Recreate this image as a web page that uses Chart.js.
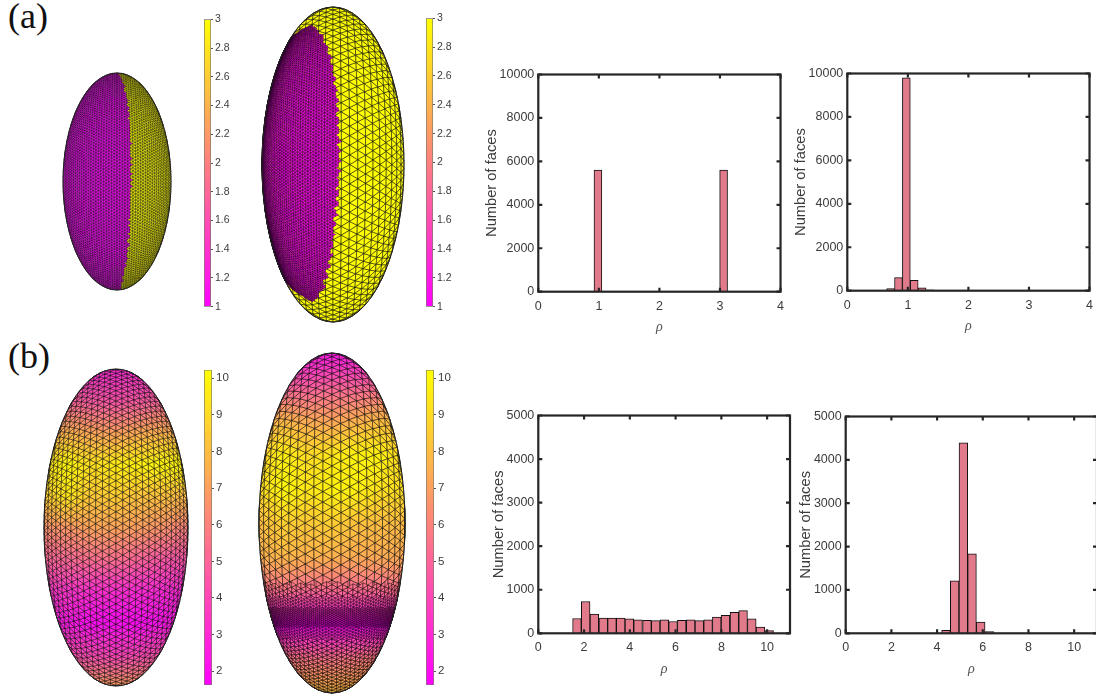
<!DOCTYPE html>
<html>
<head>
<meta charset="utf-8">
<title>Face ratio histograms</title>
<script src="https://cdn.jsdelivr.net/npm/chart.js@4"></script>
<style>
  html, body { margin: 0; padding: 0; background: #fff; width: 1096px; height: 694px; overflow: hidden; }
  canvas { position: absolute; display: block; }
  .tag { position: absolute; left: 8px; font: 36px/36px "Liberation Serif", serif; color: #111; }
</style>
</head>
<body>
<div class="tag" style="top:-2px">(a)</div>
<div class="tag" style="top:338px">(b)</div>
<script>
// histogram bins
var rhoA1 = [0.985, 1.115, 3.06];
var facesA1 = [5600, 0, 5600];
var rhoA2 = [0.715, 0.845, 0.975, 1.105, 1.235, 1.365];
var facesA2 = [100, 600, 9800, 480, 130, 40];
var rhoB1 = [1.69, 2.07, 2.45, 2.84, 3.22, 3.6, 3.98, 4.36, 4.75, 5.13, 5.51, 5.89, 6.27, 6.66, 7.04, 7.42, 7.8, 8.18, 8.57, 8.95, 9.33, 9.71, 10.09];
var facesB1 = [340, 730, 440, 350, 350, 350, 330, 310, 300, 290, 310, 270, 300, 310, 290, 310, 370, 410, 480, 520, 330, 140, 60];
var rhoB2 = [4.39, 4.77, 5.15, 5.53, 5.91, 6.29];
var facesB2 = [70, 1210, 4390, 1830, 260, 40];

// tick labels
var rhoTicksA = [0, 1, 2, 3, 4];
var rhoTicksB = [0, 2, 4, 6, 8, 10];
var faceTicksA = [0, 2000, 4000, 6000, 8000, 10000];
var faceTicksB = [0, 1000, 2000, 3000, 4000, 5000];
var barTicksA = [1, 1.2, 1.4, 1.6, 1.8, 2, 2.2, 2.4, 2.6, 2.8, 3];
var barTicksB = [2, 3, 4, 5, 6, 7, 8, 9, 10];
var barRangeA = [1, 3];
var barRangeB = [1.62, 10.23];

// surface (a): rho is 1 left of the switch line and 3 right of it
var switchRowsLeft = [1, 0.88, 0.695, 0.45, 0.2, -0.04, -0.29, -0.535, -0.69, -0.87, -1];
var switchEdgeLeft = [0.05, 0.136, 0.216, 0.247, 0.26, 0.26, 0.247, 0.216, 0.2, 0.12, 0.07];
var patchRowsRight = [0.883, 0.852, 0.767, 0.661, 0.49, 0.3, 0.025, -0.23, -0.4, -0.59, -0.8, -0.875];
var patchEdgeRight = [-0.32, -0.2, -0.104, -0.033, 0.038, 0.07, 0.085, 0.06, 0.014, -0.033, -0.15, -0.29];
var patchStartRight = [-0.32, -0.46, -0.7, -1, -1, -1, -1, -1, -1, -1, -0.55, -0.29];

// surface (b): rho sampled on a coarse grid, top row first, left column first
var fieldLeft = [
  [3, 3, 3, 3, 3, 3, 3],
  [5, 5, 4.6, 4.4, 4.6, 5, 5],
  [7.4, 7.6, 7.2, 7, 7.4, 7.6, 7.4],
  [9.4, 10, 9.2, 9.6, 9.8, 10, 10],
  [8.6, 9.4, 8.4, 8.6, 8.2, 8.2, 8],
  [6.6, 6.8, 7.2, 7.2, 7, 6.6, 6],
  [5, 5.2, 5.4, 5.4, 5, 4.6, 4.4],
  [3.4, 3.4, 3.2, 3.2, 3, 3, 3],
  [2.6, 2.4, 2, 2, 2, 2.2, 2.6],
  [4.6, 4.2, 4, 3.8, 4, 4.4, 5],
  [7, 7, 7, 7, 7, 7, 7]
];
var fieldRight = [
  [2.4, 2.4, 2.4, 2.4, 2.4, 2.4, 2.4],
  [5, 5, 4.8, 5, 5, 5.2, 5],
  [7.6, 7.8, 7.4, 7.2, 7.6, 8, 8],
  [8.6, 9.8, 9, 9.4, 9.8, 9.8, 8.8],
  [9, 10, 9.4, 9.8, 9.8, 9.2, 9.2],
  [8, 8.6, 8.4, 8.6, 8.2, 8, 8],
  [7.6, 7.8, 7.6, 7.6, 7.4, 7.4, 7.4],
  [5.4, 5.4, 5.2, 5.2, 5.2, 5.2, 5.4],
  [2, 2, 2, 2, 2, 2, 2],
  [6, 5.8, 5.6, 5.6, 5.8, 6, 6],
  [8, 8, 8, 8, 8, 8, 8]
];

var INK = '#262626';
var TEXT = '#3c3c3c';
var BAR = '#e17b8b';

// spring colormap
function spring(rho, range) {
  var t = Math.max(0, Math.min(1, (rho - range[0]) / (range[1] - range[0])));
  return 'rgb(255,' + Math.round(255 * t) + ',' + Math.round(255 * (1 - t)) + ')';
}

function place(x, y, w, h) {
  var c = document.createElement('canvas');
  c.width = w; c.height = h;
  c.style.left = x + 'px'; c.style.top = y + 'px';
  document.body.appendChild(c);
  return c;
}

function fixedTicks(list) {
  return function (scale) {
    scale.ticks = list.map(function (v) { return { value: v }; });
  };
}

// box and inward ticks on all four sides
var boxPlugin = {
  id: 'box',
  afterDraw: function (chart) {
    var a = chart.chartArea, c = chart.ctx, len = 4;
    c.save();
    c.strokeStyle = INK;
    c.lineWidth = 2.2;
    c.strokeRect(a.left, a.top, a.right - a.left, a.bottom - a.top);
    c.beginPath();
    chart.scales.x.ticks.forEach(function (t) {
      var p = chart.scales.x.getPixelForValue(t.value);
      c.moveTo(p, a.bottom); c.lineTo(p, a.bottom - len);
      c.moveTo(p, a.top); c.lineTo(p, a.top + len);
    });
    chart.scales.y.ticks.forEach(function (t) {
      var p = chart.scales.y.getPixelForValue(t.value);
      c.moveTo(a.left, p); c.lineTo(a.left + len, p);
      c.moveTo(a.right, p); c.lineTo(a.right - len, p);
    });
    c.stroke();
    c.restore();
  }
};

function histogram(box, bins, counts, xMax, xTicks, yMax, yTicks) {
  var left = box.titleX - 8, top = box.t - 10, bottom = box.rhoY + 8, right = box.r + 8;
  var canvas = place(left, top, right - left, bottom - top);
  return new Chart(canvas, {
    type: 'bar',
    data: {
      datasets: [{
        data: bins.map(function (b, i) { return { x: b, y: counts[i] }; }),
        backgroundColor: BAR,
        borderColor: '#111',
        borderWidth: 1,
        barPercentage: 1,
        categoryPercentage: 1
      }]
    },
    plugins: [boxPlugin],
    options: {
      responsive: false,
      animation: false,
      events: [],
      layout: { padding: { top: box.t - top, right: right - box.r, left: 0, bottom: 0 } },
      plugins: { legend: { display: false }, tooltip: { enabled: false } },
      scales: {
        x: {
          type: 'linear', min: 0, max: xMax, offset: false,
          grid: { display: false, drawTicks: false }, border: { display: false },
          afterBuildTicks: fixedTicks(xTicks),
          afterFit: function (s) { s.height = bottom - box.b; },
          ticks: { autoSkip: false, maxRotation: 0, padding: 7, color: TEXT, font: { family: 'Liberation Sans', size: 12.5 }, callback: String },
          title: { display: true, text: 'ρ', color: '#555', padding: 0, font: { family: 'Liberation Serif', style: 'italic', size: 14 } }
        },
        y: {
          min: 0, max: yMax,
          grid: { display: false, drawTicks: false }, border: { display: false },
          afterBuildTicks: fixedTicks(yTicks),
          afterFit: function (s) { s.width = box.l - left; },
          ticks: { autoSkip: false, padding: 4, color: TEXT, font: { family: 'Liberation Sans', size: 12.5 }, callback: String },
          title: { display: true, text: 'Number of faces', color: TEXT, padding: 0, font: { family: 'Liberation Sans', size: 14.7 } }
        }
      }
    }
  });
}

function colorbar(l, r, t, b, range, ticks, size) {
  var pad = 8, width = 34;
  var canvas = place(l - 2, t - pad, r - l + width, b - t + 2 * pad);
  return new Chart(canvas, {
    type: 'bar',
    data: {
      labels: [''],
      datasets: [{
        data: [[range[0], range[1]]],
        barPercentage: 1,
        categoryPercentage: 1,
        borderSkipped: false,
        borderWidth: 1,
        borderColor: '#7d7d6a',
        backgroundColor: function (ctx) {
          var a = ctx.chart.chartArea;
          if (!a) return '#ff8080';
          var g = ctx.chart.ctx.createLinearGradient(0, a.bottom, 0, a.top);
          g.addColorStop(0, spring(range[0], range));
          g.addColorStop(1, spring(range[1], range));
          return g;
        }
      }]
    },
    options: {
      responsive: false,
      animation: false,
      events: [],
      layout: { padding: { top: pad, bottom: pad, left: 2, right: 0 } },
      plugins: { legend: { display: false }, tooltip: { enabled: false } },
      scales: {
        x: { display: false },
        y: {
          position: 'right', min: range[0], max: range[1],
          border: { display: false },
          grid: { drawOnChartArea: false, tickLength: 2, tickColor: '#555', tickWidth: 1 },
          afterBuildTicks: fixedTicks(ticks),
          afterFit: function (s) { s.width = width - 2; },
          ticks: { autoSkip: false, padding: 2, color: TEXT, font: { family: 'Liberation Sans', size: size }, callback: String }
        }
      }
    }
  });
}

// triangular lattice with vertical edges, squeezed toward the rim like a surface seen head on
// rim is how much of the squeeze to use, 1 is full foreshortening
function lattice(h, a, b, rim) {
  var nodes = [], inside = [], faces = [];
  var dx = h * 0.866;
  var nc = Math.ceil(a * 1.05 / dx), nr = Math.ceil(b * 1.05 / h);
  var rows = 2 * nr + 1, cols = 2 * nc + 1;
  for (var i = 0; i < cols; i++) {
    for (var j = 0; j < rows; j++) {
      var u = (i - nc) * dx / a;
      var v = ((j - nr) + (i % 2 ? 0.5 : 0)) * h / b;
      var r = Math.sqrt(u * u + v * v);
      var s;
      if (r === 0) s = rim * Math.PI / 2 + (1 - rim);
      else if (r < 1) s = (rim * Math.sin(r * Math.PI / 2) + (1 - rim) * r) / r;
      else s = 1 / r;
      nodes.push({ x: u * s, y: v * s });
      inside.push(r < 1);
    }
  }
  function id(c, w) { return c * rows + w; }
  function add(p, q, w) {
    if (inside[p] || inside[q] || inside[w]) faces.push([p, q, w]);
  }
  for (i = 0; i < cols - 1; i++) {
    for (j = 0; j < rows - 1; j++) {
      if (i % 2 === 0) {
        add(id(i, j), id(i, j + 1), id(i + 1, j));
        add(id(i, j + 1), id(i + 1, j), id(i + 1, j + 1));
      } else {
        add(id(i, j), id(i, j + 1), id(i + 1, j + 1));
        add(id(i, j), id(i + 1, j), id(i + 1, j + 1));
      }
    }
  }
  return { nodes: nodes, faces: faces };
}

function centroid(m, f) {
  return {
    x: (m.nodes[f[0]].x + m.nodes[f[1]].x + m.nodes[f[2]].x) / 3,
    y: (m.nodes[f[0]].y + m.nodes[f[1]].y + m.nodes[f[2]].y) / 3
  };
}

// value of a polyline listed by descending rows
function along(rows, vals, y) {
  for (var i = 0; i < rows.length - 1; i++) {
    if (y <= rows[i] && y >= rows[i + 1]) {
      return vals[i] + (vals[i + 1] - vals[i]) * (rows[i] - y) / (rows[i] - rows[i + 1]);
    }
  }
  return null;
}

function sampleField(field, p) {
  var ry = (1 - p.y) / 2 * (field.length - 1), rx = (p.x + 1) / 2 * (field[0].length - 1);
  var y0 = Math.min(field.length - 2, Math.floor(ry)), x0 = Math.min(field[0].length - 2, Math.floor(rx));
  var fy = ry - y0, fx = rx - x0;
  return (field[y0][x0] * (1 - fx) + field[y0][x0 + 1] * fx) * (1 - fy) +
         (field[y0 + 1][x0] * (1 - fx) + field[y0 + 1][x0 + 1] * fx) * fy;
}

// fills and strokes the faces of each dataset from the points the scales placed
var meshPlugin = {
  id: 'mesh',
  beforeDatasetsDraw: function (chart) {
    var c = chart.ctx;
    c.save();
    c.lineJoin = 'round';
    chart.data.datasets.forEach(function (ds, n) {
      var pts = chart.getDatasetMeta(n).data;
      c.lineWidth = ds.meshWidth;
      c.strokeStyle = ds.meshColor;
      ds.faces.forEach(function (f, k) {
        if (!ds.faceColors[k]) return;
        c.beginPath();
        c.moveTo(pts[f[0]].x, pts[f[0]].y);
        c.lineTo(pts[f[1]].x, pts[f[1]].y);
        c.lineTo(pts[f[2]].x, pts[f[2]].y);
        c.closePath();
        c.fillStyle = ds.faceColors[k];
        c.fill();
        c.stroke();
      });
    });
    var sx = chart.scales.x, sy = chart.scales.y;
    var mx = sx.getPixelForValue(0), my = sy.getPixelForValue(0);
    c.beginPath();
    c.ellipse(mx, my, sx.getPixelForValue(1) - mx, my - sy.getPixelForValue(1), 0, 0, Math.PI * 2);
    c.strokeStyle = '#222';
    c.lineWidth = 1;
    c.stroke();
    c.restore();
  }
};

function surface(s, layers) {
  var canvas = place(s.cx - s.a - 2, s.cy - s.b - 2, 2 * s.a + 4, 2 * s.b + 4);
  return new Chart(canvas, {
    type: 'scatter',
    data: {
      datasets: layers.map(function (l) {
        return {
          data: l.mesh.nodes,
          faces: l.mesh.faces,
          faceColors: l.colors,
          meshWidth: l.width,
          meshColor: l.stroke,
          pointRadius: 0,
          showLine: false
        };
      })
    },
    plugins: [meshPlugin],
    options: {
      responsive: false,
      animation: false,
      events: [],
      layout: { padding: 2 },
      plugins: { legend: { display: false }, tooltip: { enabled: false } },
      scales: {
        x: { display: false, min: -1, max: 1 },
        y: { display: false, min: -1, max: 1 }
      }
    }
  });
}

var leftA = { cx: 116.7, cy: 182, a: 54, b: 108.7 };
var rightA = { cx: 332.5, cy: 164, a: 71, b: 157.5 };
var leftB = { cx: 116, cy: 528, a: 72, b: 158.7 };
var rightB = { cx: 332, cy: 523.3, a: 73, b: 170 };

// small notches so a colour boundary is not a clean curve
function notch(y, size) { return Math.sin(y * 95) * size; }

// (a) left: one dense mesh split by the switch line
var meshAL = lattice(2.5, leftA.a, leftA.b, 0.45);
surface(leftA, [{
  mesh: meshAL, width: 0.5, stroke: 'rgba(0,0,0,0.68)',
  colors: meshAL.faces.map(function (f) {
    var p = centroid(meshAL, f);
    var e = along(switchRowsLeft, switchEdgeLeft, p.y);
    return spring(e !== null && p.x < e + notch(p.y, 0.012) ? 1 : 3, barRangeA);
  })
}]);

// (a) right: coarse yellow shell with a dense magenta patch on top
var meshARo = lattice(7.6, rightA.a, rightA.b, 0.5);
var meshARi = lattice(2.1, rightA.a, rightA.b, 1);
surface(rightA, [{
  mesh: meshARo, width: 0.6, stroke: 'rgba(0,0,0,0.85)',
  colors: meshARo.faces.map(function () { return spring(3, barRangeA); })
}, {
  mesh: meshARi, width: 0.45, stroke: 'rgba(0,0,0,0.7)',
  colors: meshARi.faces.map(function (f) {
    var p = centroid(meshARi, f);
    var hi = along(patchRowsRight, patchEdgeRight, p.y);
    var lo = along(patchRowsRight, patchStartRight, p.y);
    return hi !== null && p.x < hi + notch(p.y, 0.022) && p.x > lo ? spring(1, barRangeA) : null;
  })
}]);

// (b) left
var meshBL = lattice(6.3, leftB.a, leftB.b, 0.45);
surface(leftB, [{
  mesh: meshBL, width: 0.55, stroke: 'rgba(0,0,0,0.85)',
  colors: meshBL.faces.map(function (f) { return spring(sampleField(fieldLeft, centroid(meshBL, f)), barRangeB); })
}]);

// (b) right: coarse above, finer below, densest in the dark band
function rangeLayer(field, mesh, top, bottom, width, stroke) {
  return {
    mesh: mesh, width: width, stroke: stroke,
    colors: mesh.faces.map(function (f) {
      var p = centroid(mesh, f);
      return p.y <= top && p.y >= bottom ? spring(sampleField(field, p), barRangeB) : null;
    })
  };
}
surface(rightB, [
  rangeLayer(fieldRight, lattice(8.4, rightB.a, rightB.b, 0.45), 1, -1, 0.6, 'rgba(0,0,0,0.85)'),
  rangeLayer(fieldRight, lattice(5, rightB.a, rightB.b, 0.45), -0.36, -1, 0.55, 'rgba(0,0,0,0.85)'),
  rangeLayer(fieldRight, lattice(3, rightB.a, rightB.b, 0.45), -0.44, -0.68, 0.45, 'rgba(0,0,0,0.75)'),
  rangeLayer(fieldRight, lattice(2, rightB.a, rightB.b, 0.45), -0.5, -0.61, 0.45, 'rgba(0,0,0,0.8)')
]);

colorbar(204.3, 211.7, 18.7, 307.3, barRangeA, barTicksA, 10.5);
colorbar(426, 433.3, 17.7, 307.3, barRangeA, barTicksA, 10.5);
colorbar(203.7, 211.7, 369.3, 686.7, barRangeB, barTicksB, 11.5);
colorbar(426.3, 434.3, 369.3, 686.7, barRangeB, barTicksB, 11.5);

histogram({ l: 538.3, r: 783.3, t: 72.7, b: 291.7, titleX: 491, rhoY: 328 }, rhoA1, facesA1, 4, rhoTicksA, 10000, faceTicksA);
histogram({ l: 847.3, r: 1092.7, t: 71.7, b: 290.7, titleX: 800, rhoY: 327 }, rhoA2, facesA2, 4, rhoTicksA, 10000, faceTicksA);
histogram({ l: 538.3, r: 790, t: 414, b: 633.3, titleX: 498, rhoY: 670 }, rhoB1, facesB1, 11, rhoTicksB, 5000, faceTicksB);
histogram({ l: 845.7, r: 1097, t: 414.7, b: 633.3, titleX: 805, rhoY: 670 }, rhoB2, facesB2, 11, rhoTicksB, 5000, faceTicksB);
</script>
</body>
</html>
